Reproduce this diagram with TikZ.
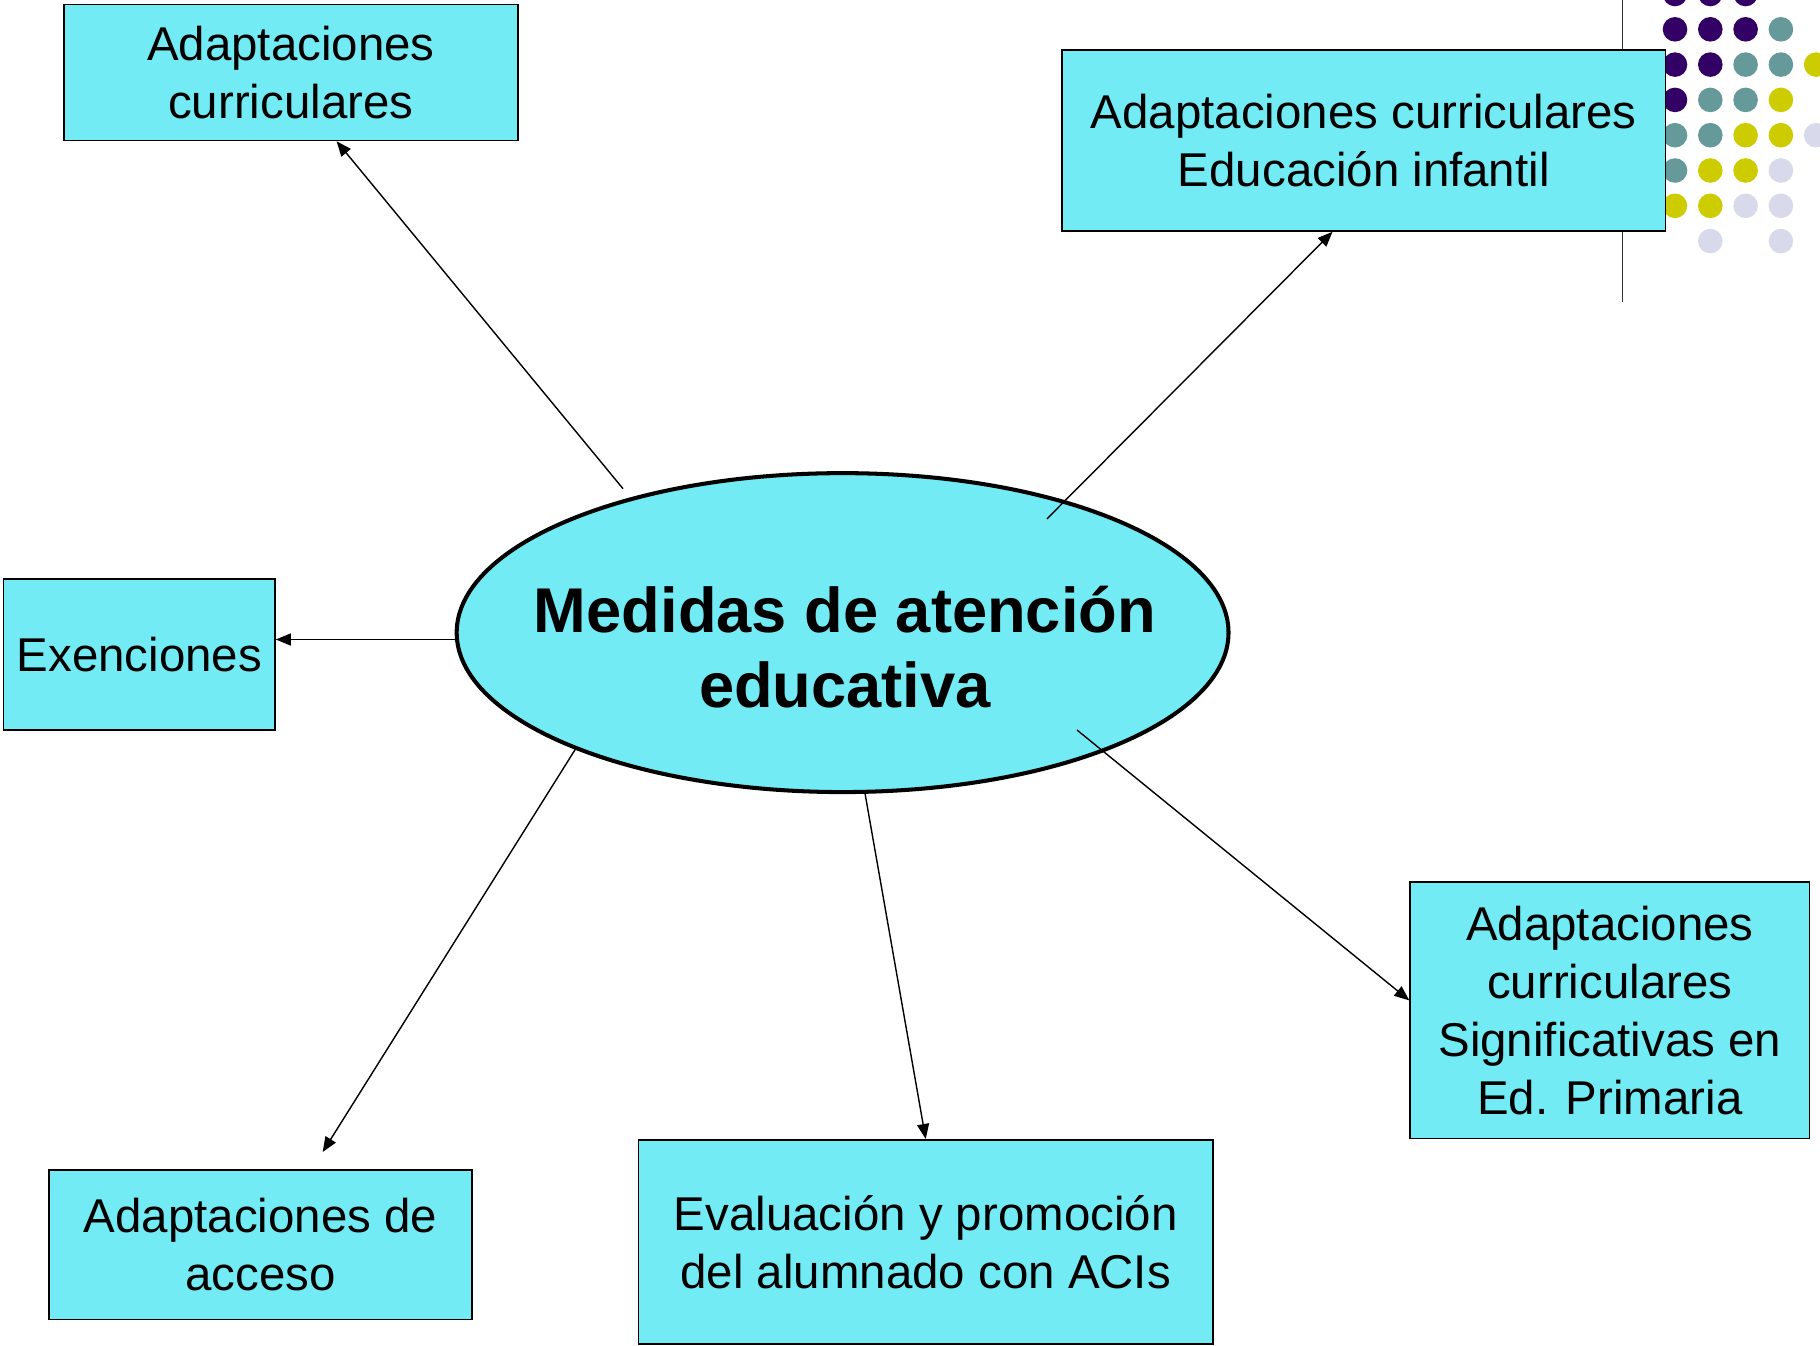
\documentclass[tikz,border=0pt]{standalone}
\usepackage{fontspec}
\setmainfont{Liberation Sans}
\usetikzlibrary{shapes.geometric,arrows.meta}
\definecolor{cajacian}{RGB}{114,235,245}
\definecolor{puntomorado}{RGB}{51,0,102}
\definecolor{puntoverde}{RGB}{102,153,153}
\definecolor{puntoamarillo}{RGB}{204,204,0}
\definecolor{puntolila}{RGB}{217,217,236}

\begin{document}
\begin{tikzpicture}[x=0.02cm,y=-0.02cm,
		caja/.style={draw, line width=0.9pt, fill=cajacian, inner sep=0pt, align=center, font=\fontsize{27}{33}\selectfont},
		flecha/.style={-{Triangle[length=0.3cm,width=0.24cm]}, line width=0.8pt}]
		\useasboundingbox (0,0) rectangle (1820,1346);
		\clip (0,0) rectangle (1820,1346);
		\fill[white] (0,0) rectangle (1820,1346);

		% puntos de la esquina
		\draw[line width=0.8pt, black!80] (1622.5,0) -- (1622.5,302);
		\foreach \i/\j in {0/0,1/0,2/0,0/1,1/1,2/1,0/2,1/2,0/3}
			\fill[puntomorado] ({1675+35.3*\i},{-6+35.3*\j}) circle (0.246cm);
		\foreach \i/\j in {3/1,2/2,3/2,1/3,2/3,0/4,1/4,0/5}
			\fill[puntoverde] ({1675+35.3*\i},{-6+35.3*\j}) circle (0.246cm);
		\foreach \i/\j in {4/2,3/3,2/4,3/4,1/5,2/5,0/6,1/6}
			\fill[puntoamarillo] ({1675+35.3*\i},{-6+35.3*\j}) circle (0.246cm);
		\foreach \i/\j in {4/4,3/5,2/6,3/6,1/7,3/7}
			\fill[puntolila] ({1675+35.3*\i},{-6+35.3*\j}) circle (0.246cm);

		% cajas
		\node[caja, minimum width=9.08cm, minimum height=2.72cm] (adapcurr) at (290.8,72.5) {Adaptaciones\\curriculares};
		\node[caja, minimum width=12.07cm, minimum height=3.62cm] (adapinf) at (1363.8,140.5) {Adaptaciones curriculares\\Educación infantil};
		\node[caja, minimum width=5.43cm, minimum height=3.02cm] (exenc) at (139.3,654.5) {Exenciones};
		\node[caja, minimum width=8.47cm, minimum height=2.99cm] (adapacc) at (260.5,1244.9) {Adaptaciones de\\acceso};
		\node[caja, minimum width=11.49cm, minimum height=4.09cm] (evalua) at (925.7,1242) {Evaluación y promoción\\del alumnado con ACIs};
		\node[caja, minimum width=7.99cm, minimum height=5.13cm] (adapsig) at (1609.8,1010.3) {Adaptaciones\\curriculares\\Significativas en\\Ed. Primaria};

		% elipse central
		\node[draw, ellipse, line width=2.3pt, fill=cajacian, inner sep=0pt, minimum width=15.44cm, minimum height=6.38cm] (medidas) at (842.6,632.6) {};
		\node[align=center, font=\bfseries\fontsize{36}{43}\selectfont] (titulo) at (845,647) {Medidas de atención\\educativa};

		\coordinate (m1) at (623,488.7);
		\coordinate (m2) at (1047,518.8);
		\coordinate (m3) at (456,639.5);
		\coordinate (m4) at (575.7,748.7);
		\coordinate (m5) at (864.7,791.6);
		\coordinate (m6) at (1077,730);

		\draw[flecha] (m1) -- ([shift={(45.8,0)}]adapcurr.south);
		\draw[flecha] (m2) -- ([shift={(-31.3,0)}]adapinf.south);
		\draw[flecha] (m3) -- ([shift={(0,-15)}]exenc.east);
		\draw[flecha] (m4) -- ([shift={(62.2,-17.4)}]adapacc.north);
		\draw[flecha] (m5) -- (evalua.north);
		\draw[flecha] (m6) -- ([shift={(0,-9.9)}]adapsig.west);
	\end{tikzpicture}
\end{document}
